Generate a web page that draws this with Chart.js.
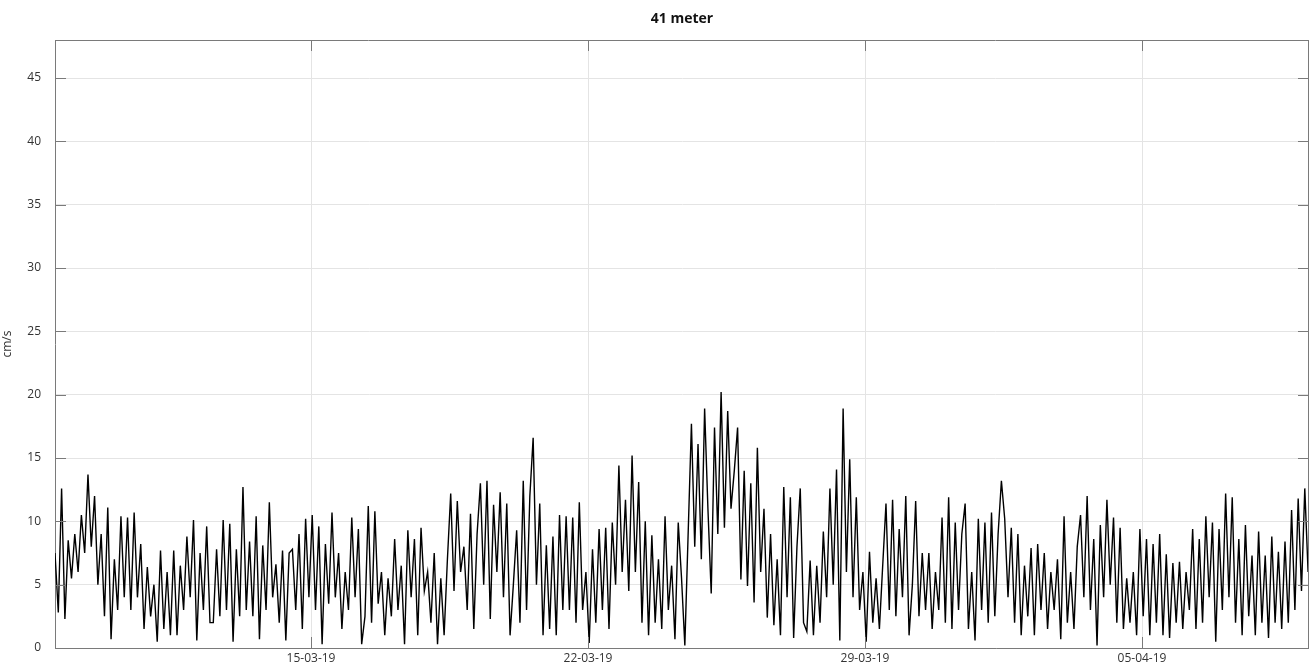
<!DOCTYPE html>
<html>
<head>
<meta charset="utf-8">
<script src="https://cdn.jsdelivr.net/npm/chart.js@4.4.1/dist/chart.umd.min.js"></script>
<style>
  body { margin: 0; background: #fff; }
  #wrap { width: 1309px; height: 671px; position: relative; }
</style>
</head>
<body>
<div id="wrap"><canvas id="speedChart"></canvas></div>
<script>
// current speed at 41 m, one value every 2 hours
// x is in days counted from 15-03-19 00:00
var startDay = -6.47;
var stepDay = 1 / 12;

var week1 = [
  7.5, 2.8, 12.6, 2.3, 8.5, 5.5, 9, 6, 10.5, 7.5, 13.7, 8,
  12, 5, 9, 2.5, 11.1, 0.7, 7, 3, 10.4, 4, 10.3, 3,
  10.7, 4, 8.2, 1.5, 6.4, 2.5, 5, 0.5, 7.7, 1.5, 6, 1,
  7.7, 1, 6.5, 3, 8.8, 4, 10.1, 0.6, 7.5, 3, 9.6, 2,
  2, 7.8, 2.5, 10.1, 3, 9.8, 0.5, 7.8, 2.5, 12.7, 3, 8.4,
  2.5, 10.4, 0.7, 8.1, 3, 11.5, 4, 6.6, 2, 7.7, 0.6, 7.5,
  7.8, 3, 9, 1.5, 10.2, 4, 10.5, 3, 9.6, 0.3, 8.2, 3.5
];
var week2 = [
  10.7, 4, 7.5, 1.5, 6, 3, 10.3, 4, 9.4, 0.3, 2.5, 11.2,
  2, 10.8, 3.5, 6, 1, 5.5, 2.5, 8.6, 3, 6.5, 0.3, 9.3,
  4, 8.6, 1, 9.5, 4.5, 6, 2, 7.5, 0.3, 5.5, 1, 7,
  12.2, 4.5, 11.6, 6, 8, 3, 10.6, 1.5, 9, 13, 5, 13.2,
  2.3, 11.3, 6, 12.3, 4, 11.4, 1, 5, 9.3, 2, 13.2, 3,
  12, 16.6, 5, 11.4, 1, 8.1, 1.5, 8.8, 1, 10.5, 3, 10.4,
  3, 10.3, 2, 11.5, 3, 6, 0.4, 7.8, 2, 9.4, 3, 9.5
];
var week3 = [
  1.5, 9.9, 5, 14.4, 6, 11.7, 4.5, 15.2, 6, 13.1, 2, 10,
  1, 8.9, 2, 7, 1.5, 10.4, 3, 6.5, 0.7, 9.9, 5.5, 0.2,
  9, 17.7, 8, 16.1, 7, 18.9, 11, 4.3, 17.4, 9, 20.2, 9.5,
  18.7, 11, 14, 17.4, 5.4, 14, 4.9, 13, 3.6, 15.8, 6, 11,
  2.4, 9, 1.8, 7, 1, 12.7, 4, 11.9, 0.8, 8, 12.6, 2,
  1.3, 6.9, 1, 6.5, 2, 9.2, 4, 12.6, 5, 14.1, 0.6, 18.9,
  6, 14.9, 4, 11.9, 3, 6, 0.5, 7.6, 2, 5.5, 1.5, 6.5
];
var week4 = [
  11.4, 3, 11.7, 2.5, 9.4, 4, 12, 1, 5, 11.6, 2.5, 7.5,
  3, 7.5, 1.5, 6, 3, 10.3, 2, 11.9, 1.5, 9.9, 3, 9,
  11.4, 1.5, 6, 0.6, 10.2, 3, 9.9, 2, 10.7, 2.5, 9, 13.2,
  10.2, 4, 9.5, 2, 9, 1, 6.5, 2.5, 7.9, 1, 8.2, 3,
  7.5, 1.5, 6, 3, 7, 0.7, 10.4, 2, 6, 1.5, 8, 10.5,
  4, 12, 3, 8.6, 0.2, 9.7, 4, 11.7, 5, 10.3, 2, 9.5,
  1.5, 5.5, 2, 6, 1, 9.4, 2.5, 8.6, 1, 8.2, 2, 9
];
var week5 = [
  1, 7.4, 0.8, 6.7, 2, 6.8, 1.5, 6, 3, 9.4, 1.5, 8.6,
  2, 10.4, 4, 9.9, 0.5, 9.4, 3, 12.2, 4, 11.9, 2, 8.6,
  1, 9.7, 2.5, 7.3, 1, 9.2, 2, 7.3, 0.8, 8.8, 2, 7.6,
  1.5, 8.4, 2, 10.9, 3, 11.8, 4.5, 12.6, 6
];

var tickDays = [0, 7, 14, 21];
var tickLabels = ['15-03-19', '22-03-19', '29-03-19', '05-04-19'];
var yTicks = [0, 5, 10, 15, 20, 25, 30, 35, 40, 45];

var speed = week1.concat(week2, week3, week4, week5);
var points = speed.map(function (v, i) {
  return { x: startDay + i * stepDay, y: v };
});

var axisColor = '#7a7a7a';
var gridColor = '#e4e4e4';
var fontFam = '"Open Sans", "Noto Sans", sans-serif';

// box, inward ticks and title
var frame = {
  id: 'frame',
  afterDraw: function (chart) {
    var c = chart.ctx, a = chart.chartArea;
    var xs = chart.scales.x, ys = chart.scales.y;
    c.save();
    c.strokeStyle = axisColor;
    c.lineWidth = 1;
    c.beginPath();
    c.moveTo(a.left, a.top + 0.5);
    c.lineTo(a.right, a.top + 0.5);
    c.moveTo(a.right - 0.5, a.top);
    c.lineTo(a.right - 0.5, a.bottom);
    tickDays.forEach(function (d) {
      var px = Math.round(xs.getPixelForValue(d)) + 0.5;
      c.moveTo(px, a.bottom); c.lineTo(px, a.bottom - 11);
      c.moveTo(px, a.top); c.lineTo(px, a.top + 11);
    });
    yTicks.forEach(function (v) {
      var py = Math.round(ys.getPixelForValue(v)) + 0.5;
      c.moveTo(a.left, py); c.lineTo(a.left + 11, py);
      c.moveTo(a.right, py); c.lineTo(a.right - 11, py);
    });
    c.stroke();
    c.fillStyle = '#111';
    c.font = 'bold 14px ' + fontFam;
    c.textAlign = 'center';
    c.textBaseline = 'middle';
    c.fillText('41 meter', (a.left + a.right) / 2, 19);
    c.restore();
  }
};

new Chart(document.getElementById('speedChart'), {
  type: 'line',
  data: {
    datasets: [{
      label: '41 meter',
      data: points,
      borderColor: '#000',
      borderWidth: 1.4,
      pointRadius: 0,
      tension: 0,
      fill: false
    }]
  },
  options: {
    responsive: true,
    maintainAspectRatio: false,
    animation: false,
    layout: { padding: { top: 40, right: 0, left: 0, bottom: 0 } },
    plugins: {
      legend: { display: false },
      tooltip: { enabled: false },
      title: { display: false }
    },
    scales: {
      x: {
        type: 'linear',
        min: -6.47,
        max: 25.22,
        afterBuildTicks: function (s) {
          s.ticks = tickDays.map(function (d) { return { value: d }; });
        },
        afterFit: function (s) { s.height = 23; },
        ticks: {
          autoSkip: false,
          maxRotation: 0,
          padding: 3,
          color: '#333',
          font: { family: fontFam, size: 12 },
          callback: function (v) {
            var i = tickDays.indexOf(v);
            return i >= 0 ? tickLabels[i] : '';
          }
        },
        grid: { color: gridColor, drawTicks: false },
        border: { display: true, color: axisColor, width: 1 }
      },
      y: {
        min: 0,
        max: 48,
        afterBuildTicks: function (s) {
          s.ticks = yTicks.map(function (v) { return { value: v }; });
        },
        afterFit: function (s) { s.width = 55; },
        ticks: {
          padding: 14,
          color: '#333',
          font: { family: fontFam, size: 12 }
        },
        title: {
          display: true,
          text: 'cm/s',
          color: '#333',
          font: { family: fontFam, size: 12 },
          padding: { top: 0, bottom: 2 }
        },
        grid: { color: gridColor, drawTicks: false },
        border: { display: true, color: axisColor, width: 1 }
      }
    }
  },
  plugins: [frame]
});
</script>
</body>
</html>
